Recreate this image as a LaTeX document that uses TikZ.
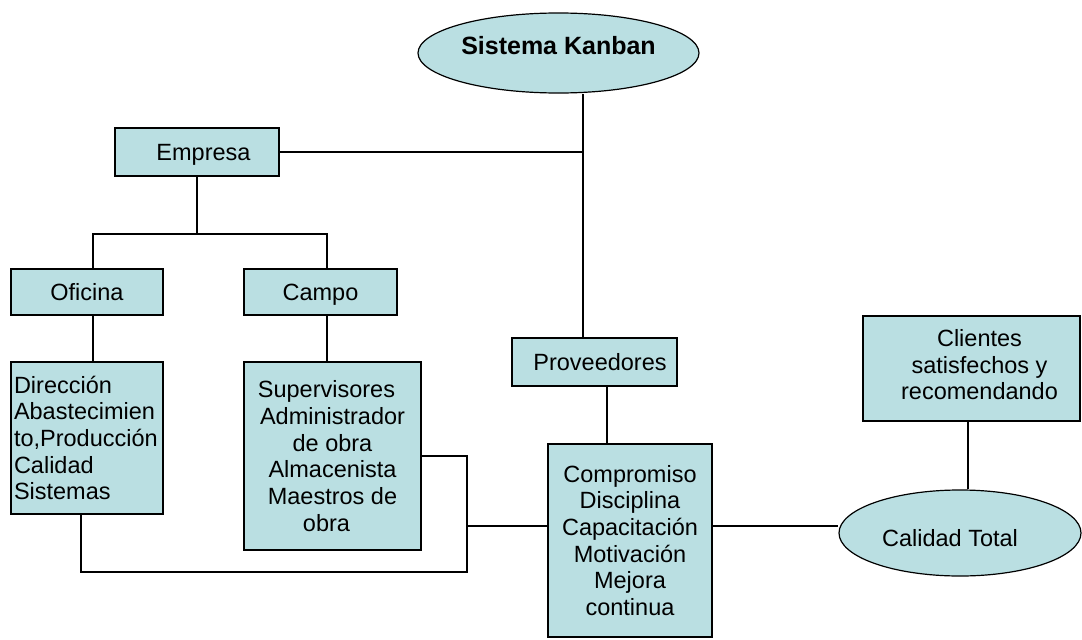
\documentclass[tikz,border=0pt]{standalone}
\usepackage{fontspec}
\setmainfont{Liberation Sans}
\usetikzlibrary{shapes.geometric}
\definecolor{boxfill}{RGB}{186,223,226}
\newcommand{\fs}{\fontsize{23.5}{26.7}\selectfont}
\begin{document}
\begin{tikzpicture}[x=1pt,y=-1pt,
  box/.style={draw, fill=boxfill, line width=1.2pt, inner sep=0pt, align=center, font=\fs},
  onebox/.style={box, text height=16pt, text depth=0pt},
  oval/.style={ellipse, draw, fill=boxfill, line width=1.2pt, inner sep=0pt, font=\fs},
  link/.style={line width=1.2pt}]
\useasboundingbox (0,0) rectangle (1082,640);
% nodes
\node[oval, minimum width=281, minimum height=80, text height=10pt, text depth=8pt,
      font=\fontsize{25}{28}\selectfont\bfseries] (kan) at (558.5,53) {Sistema Kanban};
\node[onebox, minimum width=164, minimum height=48] (emp) at (197,152) {\hspace*{13pt}Empresa};
\node[onebox, minimum width=152, minimum height=46] (ofi) at (87,292) {Oficina};
\node[onebox, minimum width=153, minimum height=46] (cam) at (320.5,292) {Campo};
\node[box, minimum width=152, minimum height=152, text width=146, inner sep=3pt, align=left] (dir) at (87,438)
  {Dirección\\Abastecimien\\to,Producción\\Calidad\\Sistemas};
\node[box, minimum width=177, minimum height=188] (sup) at (332.5,456)
  {Supervisores\hspace*{12pt}\\Administrador\hspace*{12pt}\\de obra\hspace*{12pt}\\Almacenista\hspace*{12pt}\\Maestros de\hspace*{12pt}\\obra\hspace*{12pt}};
\node[onebox, minimum width=165, minimum height=48] (prov) at (594.5,362) {\hspace*{11pt}Proveedores};
\node[box, minimum width=164, minimum height=193] (comp) at (630,540.5)
  {Compromiso\\Disciplina\\Capacitación\\Motivación\\Mejora\\continua};
\node[box, minimum width=217, minimum height=105, text depth=8pt] (cli) at (971.5,368.5)
  {\hspace*{16pt}Clientes\\\hspace*{16pt}satisfechos y\\\hspace*{16pt}recomendando};
\node[oval, minimum width=242, minimum height=86, text height=26pt, text depth=0pt] (cal) at (960,533)
  {Calidad Total\hspace*{20pt}};
% helper coordinates
\coordinate (jk) at (583,152);
\coordinate (bus) at (0,234);
\coordinate (ox) at (93,0);
\coordinate (cx) at (327,0);
\coordinate (rx) at (467,0);
\coordinate (dx) at (81,0);
\coordinate (by) at (0,572);
\coordinate (my) at (0,526);
\coordinate (px) at (607,0);
\coordinate (qx) at (968,0);
% connectors
\draw[link] (emp.east) -- (jk);
\draw[link] (kan.south -| jk) -- (jk |- prov.north);
\draw[link] (emp.south) -- (emp.south |- bus);
\draw[link] (ox |- ofi.north) -- (ox |- bus) -- (cx |- bus) -- (cx |- cam.north);
\draw[link] (ox |- ofi.south) -- (ox |- dir.north);
\draw[link] (cx |- cam.south) -- (cx |- sup.north);
\draw[link] (sup.east) -- (rx |- sup.east) -- (rx |- by) -- (dx |- by) -- (dx |- dir.south);
\draw[link] (rx |- my) -- (comp.west |- my);
\draw[link] (px |- prov.south) -- (px |- comp.north);
\draw[link] (comp.east |- my) -- (cal.west |- my);
\draw[link] (qx |- cli.south) -- (qx |- cal.north);
\end{tikzpicture}
\end{document}
